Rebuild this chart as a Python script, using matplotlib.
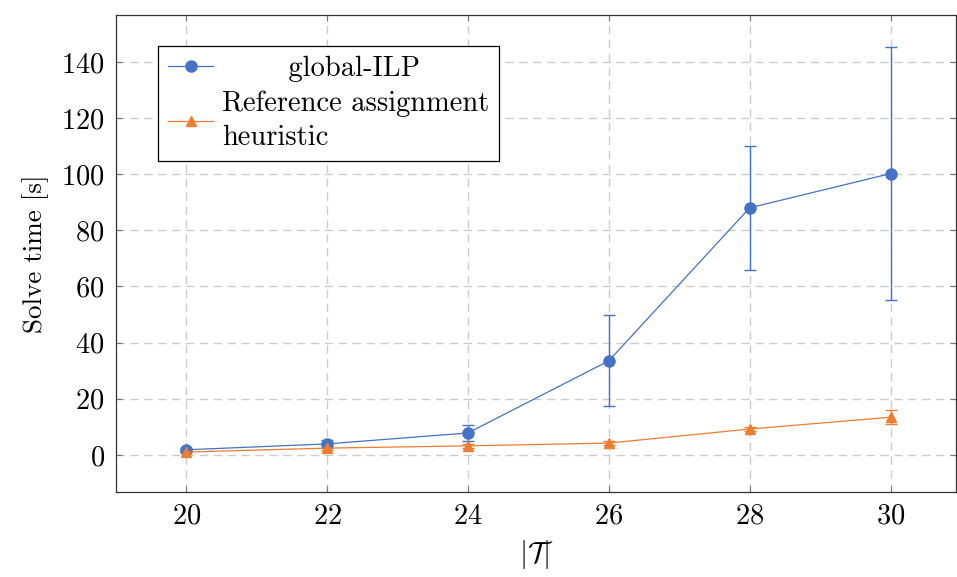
import matplotlib
matplotlib.use("Agg")
import matplotlib.pyplot as plt
from matplotlib.lines import Line2D

# data
n_tasks = [20, 22, 24, 26, 28, 30]

ilp_time = [1.8, 3.9, 7.8, 33.5, 88.0, 100.2]
ilp_err = [0.6, 1.5, 3.0, 16.2, 22.0, 45.0]

ref_time = [1.0, 2.4, 3.2, 4.2, 9.2, 13.4]
ref_err = [0.3, 0.5, 0.6, 0.6, 0.8, 2.4]

labels = ["       global-ILP", "Reference assignment\nheuristic"]

plt.rcParams["font.family"] = "cmr10"
plt.rcParams["mathtext.fontset"] = "cm"
plt.rcParams["axes.formatter.use_mathtext"] = True

blue = "#4472C4"
orange = "#ED7D31"

fig = plt.figure(figsize=(9.57, 5.77), dpi=100)
ax = fig.add_axes([0.121, 0.147, 0.878, 0.827])

ax.errorbar(n_tasks, ilp_time, yerr=ilp_err, color=blue, marker="o", markersize=8,
            linewidth=0.9, elinewidth=1.0, capsize=4.5, capthick=1.0, zorder=3)
ax.errorbar(n_tasks, ref_time, yerr=ref_err, color=orange, marker="^", markersize=7,
            linewidth=0.9, elinewidth=1.0, capsize=4.5, capthick=1.0, zorder=3)

ax.set_xlim(19, 30.93)
ax.set_ylim(-13.3, 156.7)
ax.set_xticks(n_tasks)
ax.set_yticks([0, 20, 40, 60, 80, 100, 120, 140])
ax.grid(True, color="#cccccc", linestyle=(0, (6, 4)), linewidth=1.0)
ax.set_axisbelow(True)
ax.tick_params(direction="in", top=True, right=True, length=4, labelsize=20.5,
               width=0.8, color="#777777", pad=8)
for sp in ax.spines.values():
    sp.set_linewidth(0.9)
    sp.set_color("#333333")

ax.set_xlabel(r"$|\mathcal{T}|$", fontsize=21, labelpad=6)
ax.set_ylabel("Solve time [s]", fontsize=19.5, labelpad=9)

handles = [Line2D([], [], color=blue, marker="o", markersize=8, linewidth=0.9),
           Line2D([], [], color=orange, marker="^", markersize=7, linewidth=0.9)]
leg = ax.legend(handles, labels, loc="upper left", bbox_to_anchor=(0.05, 0.935), fontsize=20.5,
                frameon=True, fancybox=False, edgecolor="black", framealpha=1,
                handlelength=1.6, handletextpad=0.3, borderpad=0.35, labelspacing=0.3,
                borderaxespad=0)
leg.get_texts()[1].set_linespacing(1.35)
leg.get_frame().set_linewidth(0.9)

fig.savefig("out.png", dpi=100)
